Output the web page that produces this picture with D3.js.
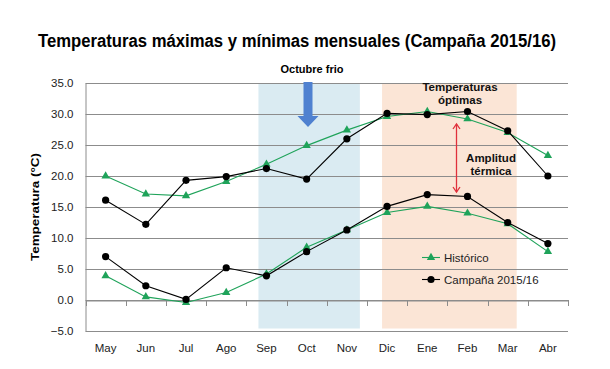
<!DOCTYPE html>
<html>
<head>
<meta charset="utf-8">
<script src="https://cdn.jsdelivr.net/npm/d3@7"></script>
<style>
body { margin: 0; background: #fff; }
text { font-family: "Liberation Sans", Arial, sans-serif; }
</style>
</head>
<body>
<div id="chart"></div>
<script>
var months = ["May", "Jun", "Jul", "Ago", "Sep", "Oct", "Nov", "Dic", "Ene", "Feb", "Mar", "Abr"];
var histMax = [20.0, 17.1, 16.8, 19.1, 21.9, 24.9, 27.4, 29.6, 30.4, 29.2, 27.0, 23.3];
var histMin = [3.9, 0.5, -0.4, 1.2, 4.2, 8.5, 11.3, 14.1, 15.1, 14.0, 12.3, 7.8];
var campMax = [16.1, 12.2, 19.3, 19.9, 21.2, 19.5, 26.0, 30.1, 29.9, 30.4, 27.3, 20.0];
var campMin = [7.0, 2.3, 0.1, 5.2, 3.9, 7.8, 11.3, 15.1, 17.0, 16.7, 12.5, 9.1];
var yTicks = [-5, 0, 5, 10, 15, 20, 25, 30, 35];

var green = "#1fa35a";
var width = 610, height = 369;

var svg = d3.select("#chart").append("svg")
	.attr("width", width)
	.attr("height", height);

var x = d3.scaleBand().domain(months).range([85.5, 568]);
var y = d3.scaleLinear().domain([-5, 35]).range([331, 83]);
var bw = x.bandwidth();
function cx(m) { return x(m) + bw / 2; }

// shaded periods
svg.append("rect")
	.attr("x", cx("Sep") - 8).attr("y", y(35))
	.attr("width", cx("Nov") + 13 - (cx("Sep") - 8))
	.attr("height", y(-4.6) - y(35))
	.attr("fill", "#daebf2");
svg.append("rect")
	.attr("x", cx("Dic") - 5).attr("y", y(35))
	.attr("width", cx("Mar") + 9 - (cx("Dic") - 5))
	.attr("height", y(-4.6) - y(35))
	.attr("fill", "#fbe5d6");

// gridlines
svg.append("g").selectAll("line")
	.data(yTicks)
	.enter().append("line")
	.attr("x1", 85.5).attr("x2", 568)
	.attr("y1", function(d) { return Math.round(y(d)) + 0.5; })
	.attr("y2", function(d) { return Math.round(y(d)) + 0.5; })
	.attr("stroke", "#8c8c8c")
	.attr("stroke-width", 1);

// y axis
var yAxis = svg.append("g")
	.attr("transform", "translate(85.5,0)")
	.call(d3.axisLeft(y).tickValues(yTicks).tickSize(0).tickPadding(12)
		.tickFormat(d3.format(".1f")));
yAxis.select(".domain").attr("stroke", "#8c8c8c");
yAxis.selectAll("text").attr("font-size", 11.5).attr("fill", "#222")
	.style("font-family", "Liberation Sans, Arial, sans-serif");

// x axis at zero
var xAxis = svg.append("g")
	.attr("transform", "translate(0," + (Math.round(y(0)) + 0.5) + ")")
	.call(d3.axisBottom(x).tickSize(0).tickFormat(""));
xAxis.select(".domain").attr("stroke", "#8c8c8c");
svg.append("g").selectAll("line")
	.data(months.concat(["end"]))
	.enter().append("line")
	.attr("x1", function(d, i) { return Math.round(85.5 + i * bw) + 0.5; })
	.attr("x2", function(d, i) { return Math.round(85.5 + i * bw) + 0.5; })
	.attr("y1", Math.round(y(0))).attr("y2", Math.round(y(0)) + 6)
	.attr("stroke", "#8c8c8c");

svg.append("g").selectAll("text")
	.data(months)
	.enter().append("text")
	.attr("x", function(d) { return cx(d); })
	.attr("y", 352)
	.attr("text-anchor", "middle")
	.attr("font-size", 11.5)
	.attr("fill", "#222")
	.text(function(d) { return d; });

// annotations
svg.append("text")
	.attr("x", 312).attr("y", 73)
	.attr("text-anchor", "middle")
	.attr("font-size", 11).attr("font-weight", "bold")
	.text("Octubre frio");

svg.append("path")
	.attr("d", "M303.5,82 L312.5,82 L312.5,116 L318.5,116 L308,127 L297.5,116 L303.5,116 Z")
	.attr("fill", "#4f81d0");

svg.append("text")
	.attr("text-anchor", "middle")
	.attr("font-size", 11.5).attr("font-weight", "bold").attr("fill", "#111")
	.selectAll("tspan")
	.data(["Temperaturas", "óptimas"])
	.enter().append("tspan")
	.attr("x", 460)
	.attr("y", function(d, i) { return 91 + i * 13; })
	.text(function(d) { return d; });

svg.append("text")
	.attr("text-anchor", "middle")
	.attr("font-size", 11.5).attr("font-weight", "bold").attr("fill", "#111")
	.selectAll("tspan")
	.data(["Amplitud", "térmica"])
	.enter().append("tspan")
	.attr("x", 491)
	.attr("y", function(d, i) { return 162 + i * 12.5; })
	.text(function(d) { return d; });

// red double arrow
svg.append("line")
	.attr("x1", 456.5).attr("x2", 456.5)
	.attr("y1", 124).attr("y2", 192)
	.attr("stroke", "#e0303c").attr("stroke-width", 1.3);
svg.append("path")
	.attr("d", "M453,129 L456.5,124 L460,129 M453,187 L456.5,192 L460,187")
	.attr("fill", "none").attr("stroke", "#e0303c").attr("stroke-width", 1.3);

// series
var line = d3.line()
	.x(function(d, i) { return cx(months[i]); })
	.y(function(d) { return y(d); });
var tri = d3.symbol().type(d3.symbolTriangle).size(30);

function drawSeries(vals, color, marker) {
	svg.append("path")
		.datum(vals)
		.attr("d", line)
		.attr("fill", "none")
		.attr("stroke", color)
		.attr("stroke-width", 1.1);
	var g = svg.append("g");
	if (marker == "tri") {
		g.selectAll("path").data(vals).enter().append("path")
			.attr("d", tri)
			.attr("transform", function(d, i) { return "translate(" + cx(months[i]) + "," + y(d) + ")"; })
			.attr("fill", color);
	} else {
		g.selectAll("circle").data(vals).enter().append("circle")
			.attr("cx", function(d, i) { return cx(months[i]); })
			.attr("cy", function(d) { return y(d); })
			.attr("r", 3.6)
			.attr("fill", color);
	}
}
drawSeries(histMax, green, "tri");
drawSeries(histMin, green, "tri");
drawSeries(campMax, "#000", "dot");
drawSeries(campMin, "#000", "dot");

// legend
var legend = [
	{ name: "Histórico", color: green, marker: "tri", y: 257.5 },
	{ name: "Campaña 2015/16", color: "#000", marker: "dot", y: 279.5 }
];
legend.forEach(function(l) {
	svg.append("line")
		.attr("x1", 422).attr("x2", 440)
		.attr("y1", l.y).attr("y2", l.y)
		.attr("stroke", l.color).attr("stroke-width", 1.1);
	if (l.marker == "tri") {
		svg.append("path").attr("d", tri)
			.attr("transform", "translate(431," + l.y + ")")
			.attr("fill", l.color);
	} else {
		svg.append("circle").attr("cx", 431).attr("cy", l.y).attr("r", 3.6).attr("fill", l.color);
	}
	svg.append("text")
		.attr("x", 444).attr("y", l.y + 4)
		.attr("font-size", 11.5).attr("fill", "#222")
		.text(l.name);
});

// title
svg.append("text")
	.attr("x", 297).attr("y", 47)
	.attr("text-anchor", "middle")
	.attr("font-size", 18).attr("font-weight", "bold")
	.attr("textLength", 518).attr("lengthAdjust", "spacingAndGlyphs")
	.text("Temperaturas máximas y mínimas mensuales (Campaña 2015/16)");

// y label
svg.append("text")
	.attr("transform", "translate(39,207) rotate(-90)")
	.attr("text-anchor", "middle")
	.attr("font-size", 11).attr("font-weight", "bold")
	.attr("textLength", 108).attr("lengthAdjust", "spacingAndGlyphs")
	.text("Temperatura (°C)");
</script>
</body>
</html>
